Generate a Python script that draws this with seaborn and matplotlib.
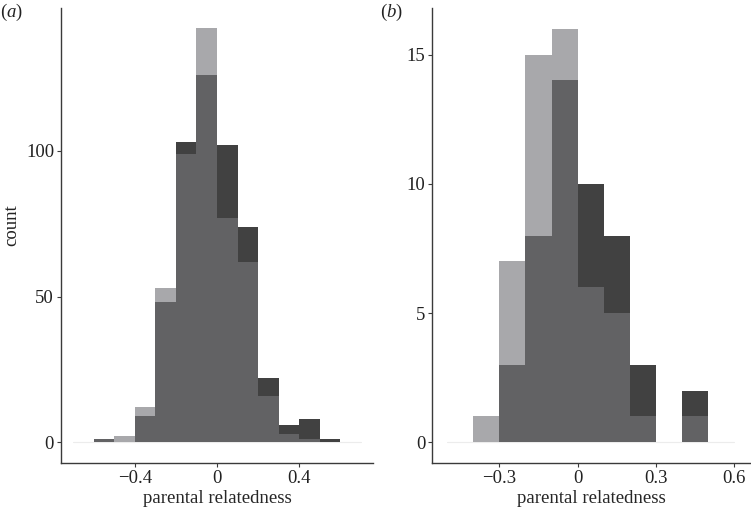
import numpy as np
import pandas as pd
import seaborn as sns
import matplotlib.pyplot as plt

# bin edges (width 0.1) and counts per bin
edges_a = [-0.6, -0.5, -0.4, -0.3, -0.2, -0.1, 0.0, 0.1, 0.2, 0.3, 0.4, 0.5, 0.6]
light_a = [1, 2, 12, 53, 99, 142, 77, 62, 16, 3, 1, 0]
dark_a = [1, 0, 9, 48, 103, 126, 102, 74, 22, 6, 8, 1]

edges_b = [-0.4, -0.3, -0.2, -0.1, 0.0, 0.1, 0.2, 0.3, 0.4, 0.5]
light_b = [1, 7, 15, 16, 6, 5, 1, 0, 1]
dark_b = [0, 3, 8, 14, 10, 8, 3, 0, 2]

xticks_a = [-0.4, 0.0, 0.4]
xticklabels_a = ["\u22120.4", "0", "0.4"]
yticks_a = [0, 50, 100]
xticks_b = [-0.3, 0.0, 0.3, 0.6]
xticklabels_b = ["\u22120.3", "0", "0.3", "0.6"]
yticks_b = [0, 5, 10, 15]

LIGHT = "#a8a8ab"
DARK = "#414141"
MID = "#626264"
AXC = "#3a3a3a"
FS = 13.5

sns.set_style("ticks")
plt.rcParams["font.family"] = ["Liberation Serif", "DejaVu Serif"]
plt.rcParams["mathtext.fontset"] = "custom"
plt.rcParams["mathtext.it"] = "Liberation Serif:italic"
plt.rcParams["mathtext.rm"] = "Liberation Serif"


def draw_panel(ax, edges, light, dark, xlim, ylim, xticks, xlabels, yticks, baseline):
    e = np.array(edges)
    centers = (e[:-1] + e[1:]) / 2
    df = pd.DataFrame({"x": centers, "light": light, "dark": dark})
    df["both"] = np.minimum(df["light"], df["dark"])
    for col, c in [("light", LIGHT), ("dark", DARK), ("both", MID)]:
        sns.histplot(data=df, x="x", weights=col, bins=list(edges), color=c,
                     alpha=1, linewidth=0, ax=ax)
    ax.plot(baseline, [0, 0], color="#ececec", lw=0.8, zorder=0)
    ax.set_xlim(*xlim)
    ax.set_ylim(*ylim)
    ax.set_xticks(xticks)
    ax.set_xticklabels(xlabels)
    ax.set_yticks(yticks)
    ax.set_xlabel("parental relatedness", fontsize=FS, labelpad=2)
    ax.set_ylabel("")
    sns.despine(ax=ax)
    for s in ["left", "bottom"]:
        ax.spines[s].set_color(AXC)
        ax.spines[s].set_linewidth(1.0)
    ax.tick_params(colors=AXC, labelcolor="#222222", labelsize=FS,
                   length=3, width=0.8, pad=2)


fig = plt.figure(figsize=(7.51, 5.11), dpi=100)
ax1 = fig.add_axes([0.0812, 0.0939, 0.4155, 0.8904])
ax2 = fig.add_axes([0.5756, 0.0939, 0.4231, 0.8904])

draw_panel(ax1, edges_a, light_a, dark_a, (-0.76, 0.76), (-7.1, 149),
           xticks_a, xticklabels_a, yticks_a, [-0.70, 0.70])
draw_panel(ax2, edges_b, light_b, dark_b, (-0.557, 0.66), (-0.8, 16.8),
           xticks_b, xticklabels_b, yticks_b, [-0.50, 0.60])

fig.text(12 / 751, 1 - 225 / 511, "count", rotation=90, ha="center",
         va="center", fontsize=FS, color="#222222")
fig.text(0 / 751, 1 - 12 / 511, r"($\mathit{a}$)", ha="left", va="center",
         fontsize=FS, color="#222222")
fig.text(380 / 751, 1 - 12 / 511, r"($\mathit{b}$)", ha="left", va="center",
         fontsize=FS, color="#222222")

fig.savefig("out.png", dpi=100)
